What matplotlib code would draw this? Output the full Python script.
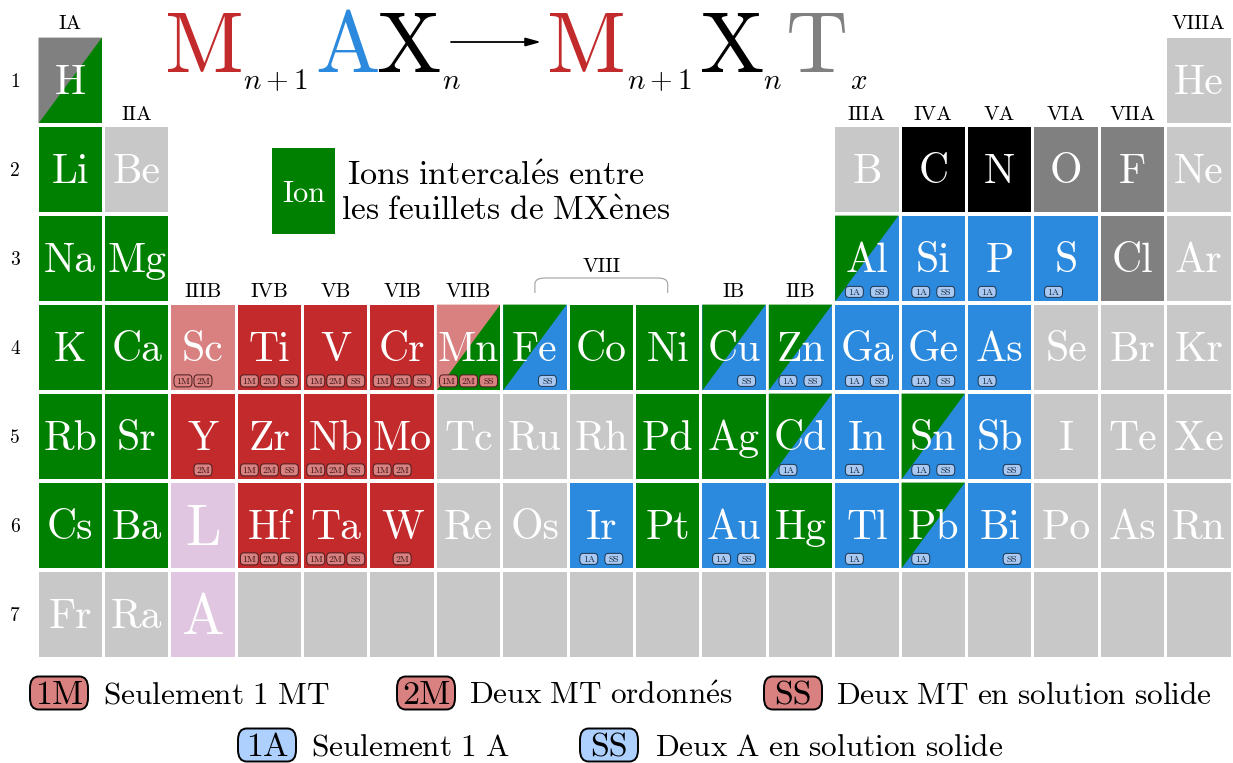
import matplotlib
matplotlib.use('Agg')
import matplotlib.pyplot as plt
from matplotlib.patches import Rectangle, Polygon, FancyBboxPatch, PathPatch
from matplotlib.path import Path

plt.rcParams['mathtext.fontset'] = 'cm'
plt.rcParams['font.family'] = ['cmr10', 'DejaVu Serif']
plt.rcParams['axes.unicode_minus'] = False
plt.rcParams['axes.formatter.use_mathtext'] = True

# ------------------------------------------------------------------ data
period_symbols = [
    ['H', 'He'],
    ['Li', 'Be', 'B', 'C', 'N', 'O', 'F', 'Ne'],
    ['Na', 'Mg', 'Al', 'Si', 'P', 'S', 'Cl', 'Ar'],
    ['K', 'Ca', 'Sc', 'Ti', 'V', 'Cr', 'Mn', 'Fe', 'Co', 'Ni', 'Cu', 'Zn', 'Ga', 'Ge', 'As', 'Se', 'Br', 'Kr'],
    ['Rb', 'Sr', 'Y', 'Zr', 'Nb', 'Mo', 'Tc', 'Ru', 'Rh', 'Pd', 'Ag', 'Cd', 'In', 'Sn', 'Sb', 'I', 'Te', 'Xe'],
    ['Cs', 'Ba', 'L', 'Hf', 'Ta', 'W', 'Re', 'Os', 'Ir', 'Pt', 'Au', 'Hg', 'Tl', 'Pb', 'Bi', 'Po', 'As', 'Rn'],
    ['Fr', 'Ra', 'A', '', '', '', '', '', '', '', '', '', '', '', '', '', '', ''],
]
period_groups = [
    [1, 18],
    [1, 2, 13, 14, 15, 16, 17, 18],
    [1, 2, 13, 14, 15, 16, 17, 18],
    list(range(1, 19)),
    list(range(1, 19)),
    list(range(1, 19)),
    list(range(1, 19)),
]
# roles: I = ion (green), N = none, X = X element, T = termination,
# M = transition metal, m = partial TM, A = A element, L = lanthanide/actinide
# "a|b": upper-left triangle a, lower-right triangle b
period_roles = [
    ['T|I', 'N'],
    ['I', 'N', 'N', 'X', 'X', 'T', 'T', 'N'],
    ['I', 'I', 'I|A', 'A', 'A', 'A', 'T', 'N'],
    ['I', 'I', 'm', 'M', 'M', 'M', 'm|I', 'I|A', 'I', 'I', 'I|A', 'I|A', 'A', 'A', 'A', 'N', 'N', 'N'],
    ['I', 'I', 'M', 'M', 'M', 'M', 'N', 'N', 'N', 'I', 'I', 'I|A', 'A', 'I|A', 'A', 'N', 'N', 'N'],
    ['I', 'I', 'L', 'M', 'M', 'M', 'N', 'N', 'A', 'I', 'A', 'I', 'A', 'I|A', 'A', 'N', 'N', 'N'],
    ['N', 'N', 'L'] + ['N'] * 15,
]
period_badges = [
    ['', ''],
    [''] * 8,
    ['', '', '1A SS', '1A SS', '1A', '1A', '', ''],
    ['', '', '1M 2M', '1M 2M SS', '1M 2M SS', '1M 2M SS', '1M 2M SS', 'SS', '', '', 'SS', '1A SS',
     '1A SS', '1A SS', '1A', '', '', ''],
    ['', '', '2M', '1M 2M SS', '1M 2M SS', '1M 2M', '', '', '', '', '', '1A', '1A', '1A SS', 'SS',
     '', '', ''],
    ['', '', '', '1M 2M SS', '1M 2M SS', '2M', '', '', '1A SS', '', '1A SS', '', '1A', '1A', 'SS',
     '', '', ''],
    [''] * 18,
]
period_labels = ['1', '2', '3', '4', '5', '6', '7']
group_labels = ['IA', 'IIA', 'IIIB', 'IVB', 'VB', 'VIB', 'VIIB', 'IB', 'IIB',
                'IIIA', 'IVA', 'VA', 'VIA', 'VIIA', 'VIIIA']
group_label_cols = [1, 2, 3, 4, 5, 6, 7, 11, 12, 13, 14, 15, 16, 17, 18]
group_label_rows = [0, 1, 3, 3, 3, 3, 3, 3, 3, 1, 1, 1, 1, 1, 0]

legend_m_keys = ['1M', '2M', 'SS']
legend_m_text = ['Seulement 1 MT', 'Deux MT ordonnés', 'Deux MT en solution solide']
legend_a_keys = ['1A', 'SS']
legend_a_text = ['Seulement 1 A', 'Deux A en solution solide']

role_colors = {'I': '#008000', 'N': '#C8C8C8', 'X': '#000000', 'T': '#808080',
               'M': '#C22A2C', 'm': '#D98080', 'A': '#2B8ADE', 'L': '#E0C6E0'}
RED = '#C22A2C'
BLUE = '#2B8ADE'
GRAY = '#808080'

# ------------------------------------------------------------------ layout
W, H = 1233, 763
fig = plt.figure(figsize=(W / 100, H / 100), dpi=100)
X0, X1, Y0, Y1 = 37, 1232, 36, 659
ax = fig.add_axes([X0 / W, 1 - Y1 / H, (X1 - X0) / W, (Y1 - Y0) / H])
ax.set_xlim(0, 18)
ax.set_ylim(7, 0)
ax.axis('off')
CW = (X1 - X0) / 18.0
RH = (Y1 - Y0) / 7.0


def dx(px):
    return (px - X0) / CW


def dy(py):
    return (py - Y0) / RH


def cm(s):
    s = s.replace(' ', r'\ ').replace('é', r'\acute{e}').replace('è', r'\grave{e}')
    return r'$\mathrm{' + s + '}$'


GX, GY = 1.5 / CW, 1.6 / RH

m_offsets = {'1M': -20 / CW, '2M': 0.0, 'SS': 20 / CW}
a_offsets = {'1A': -12.5 / CW, 'SS': 12.5 / CW}

for p, (syms, groups, roles, badges) in enumerate(
        zip(period_symbols, period_groups, period_roles, period_badges), start=1):
    for s, g, role, b in zip(syms, groups, roles, badges):
        x0, x1 = g - 1 + GX, g - GX
        y0, y1 = p - 1 + GY, p - GY
        if '|' in role:
            r1, r2 = role.split('|')
            ax.add_patch(Rectangle((x0, y0), x1 - x0, y1 - y0, color=role_colors[r2],
                                   lw=0, clip_on=False))
            ax.add_patch(Polygon([(x0, y0), (x1, y0), (x0, y1)], closed=True,
                                 color=role_colors[r1], lw=0, clip_on=False))
        else:
            ax.add_patch(Rectangle((x0, y0), x1 - x0, y1 - y0, color=role_colors[role],
                                   lw=0, clip_on=False))
        if role == 'L':
            ax.text(g - 0.5, p - 1 + 0.715, s, ha='center', va='baseline',
                    color='white', fontsize=41)
        elif s:
            ax.text(g - 0.5, p - 1 + 0.655, s, ha='center', va='baseline',
                    color='white', fontsize=30)
        if b:
            is_m = ('M' in role) or ('m' in role)
            for k in b.split():
                if is_m:
                    off = m_offsets[k]
                    fc, ec, tc, bh = '#D98080', '#4A1C1C', '#3A1414', 12 / RH
                else:
                    off = a_offsets[k]
                    fc, ec, tc, bh = '#A9C9F2', '#1C3550', '#14263A', 11 / RH
                bw = 18 / CW
                cx, cy = g - 0.5 + off, p - 1 + 0.875
                ax.add_patch(FancyBboxPatch((cx - bw / 2, cy - bh / 2), bw, bh,
                                            boxstyle='round,pad=0,rounding_size=0.05',
                                            fc=fc, ec=ec, lw=0.7, clip_on=False))
                ax.text(cx, cy + 3.6 / RH, k, ha='center', va='baseline',
                        fontsize=7, color=tc)

# period labels
for i, lab in enumerate(period_labels, start=1):
    ax.text(dx(15), i - 0.5, lab, ha='center', va='center_baseline', fontsize=14)

# group labels
group_label_y = {0: dy(22), 1: dy(113), 3: dy(290)}
for lab, c, r in zip(group_labels, group_label_cols, group_label_rows):
    ax.text(c - 0.5, group_label_y[r], lab, ha='center', va='center_baseline', fontsize=15)

# VIII bracket
bx0, bx1 = 7.5, 9.5
by_top, by_bot = dy(278), dy(293)
rx, ry = 10 / CW, 6 / RH
verts = [(bx0, by_bot), (bx0, by_top + ry), (bx0, by_top), (bx0 + rx, by_top),
         (bx1 - rx, by_top), (bx1, by_top), (bx1, by_top + ry), (bx1, by_bot)]
codes = [Path.MOVETO, Path.LINETO, Path.CURVE3, Path.CURVE3, Path.LINETO,
         Path.CURVE3, Path.CURVE3, Path.LINETO]
ax.add_patch(PathPatch(Path(verts, codes), fc='none', ec='#A0A0A0', lw=0.8, clip_on=False))
ax.text(8.5, dy(265), 'VIII', ha='center', va='center_baseline', fontsize=15)

# formula
pieces = [
    ('M', RED, 62, 165, 72),
    ('$n+1$', 'black', 21, 243, 89),
    ('A', BLUE, 62, 315, 72),
    ('X', 'black', 62, 377, 72),
    ('$n$', 'black', 21, 442, 89),
    ('M', RED, 62, 547, 72),
    ('$n+1$', 'black', 21, 627, 89),
    ('X', 'black', 62, 700, 72),
    ('$n$', 'black', 21, 763, 89),
    ('T', GRAY, 62, 786, 72),
    ('$x$', 'black', 21, 850, 89),
]
for txt, col, fs, px, py in pieces:
    ax.text(dx(px), dy(py), txt, ha='left', va='baseline', color=col, fontsize=fs)
ax.annotate('', xy=(dx(541), dy(42)), xytext=(dx(451), dy(42)),
            arrowprops=dict(arrowstyle='-|>,head_length=0.9,head_width=0.25',
                            color='black', lw=1.3, shrinkA=0, shrinkB=0), annotation_clip=False)

# Ion legend box
ax.add_patch(Rectangle((dx(272), dy(148)), dx(335) - dx(272), dy(234) - dy(148),
                       color=role_colors['I'], lw=0, clip_on=False))
ax.text(dx(303.5), dy(202.5), 'Ion', ha='center', va='baseline', color='white', fontsize=22)
ax.text(dx(496), dy(185), cm('Ions intercalés entre'), ha='center', va='baseline', fontsize=24.5)
ax.text(dx(506), dy(220.5), cm('les feuillets de MXènes'), ha='center', va='baseline', fontsize=24)

# bottom legend


def legend_badge(cxp, cyp, key, fc):
    bw, bh = 58 / CW, 33 / RH
    cx, cy = dx(cxp), dy(cyp)
    ax.add_patch(FancyBboxPatch((cx - bw / 2, cy - bh / 2), bw, bh,
                                boxstyle='round,pad=0,rounding_size=0.13',
                                fc=fc, ec='black', lw=1.4, clip_on=False))
    ax.text(cx, cy + 11.5 / RH, key, ha='center', va='baseline', fontsize=24.5)


for key, txt, bx, tx in zip(legend_m_keys, legend_m_text, [59, 426, 793], [103, 469, 836]):
    legend_badge(bx, 693, key, '#D98080')
    ax.text(dx(tx), dy(703.5), cm(txt), ha='left', va='baseline', fontsize=22.5)
for key, txt, bx, tx in zip(legend_a_keys, legend_a_text, [267, 609], [311, 655]):
    legend_badge(bx, 745, key, '#ADD0FF')
    ax.text(dx(tx), dy(755.5), cm(txt), ha='left', va='baseline', fontsize=22.5)

fig.savefig('out.png', dpi=100, facecolor='white')
